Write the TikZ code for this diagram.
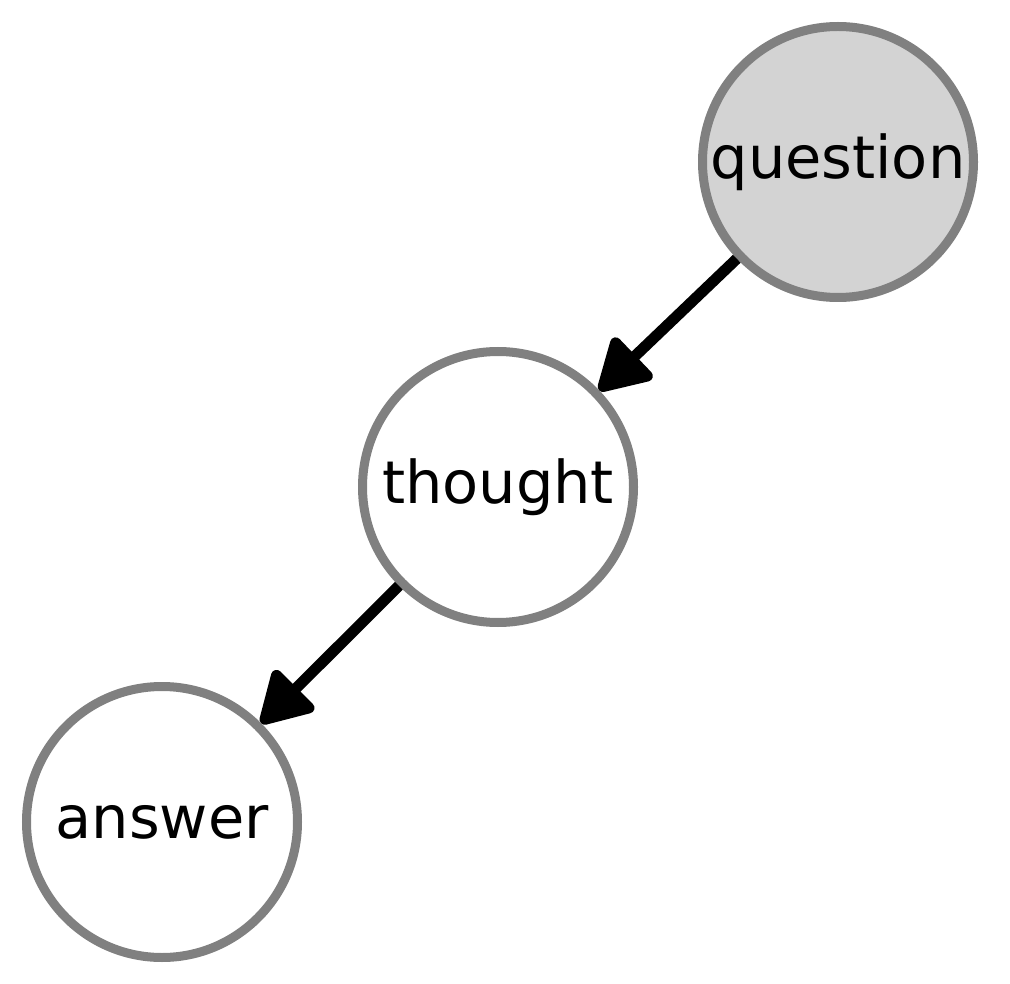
\documentclass[tikz,border=0pt]{standalone}
\usepackage{fontspec}
\setmainfont{DejaVu Sans}
\usetikzlibrary{arrows.meta}
\definecolor{ringgray}{HTML}{808080}
\definecolor{qfill}{HTML}{D3D3D3}
\begin{document}
\begin{tikzpicture}[x=1pt,y=1pt,
  state/.style={circle,draw=ringgray,line width=9pt,fill=white,minimum size=271pt,inner sep=0pt,
    font=\fontsize{59}{70}\selectfont},
  link/.style={line width=11pt,-{Triangle[length=56pt,width=62pt,round]}}]
\useasboundingbox (0,0) rectangle (1010,-984);
\node[state,fill=qfill] (question) at (838,-162) {question};
\node[state] (thought) at (498,-487) {thought};
\node[state] (answer) at (162,-822) {answer};
\draw[link] (question) -- (thought);
\draw[link] (thought) -- (answer);
\end{tikzpicture}
\end{document}
